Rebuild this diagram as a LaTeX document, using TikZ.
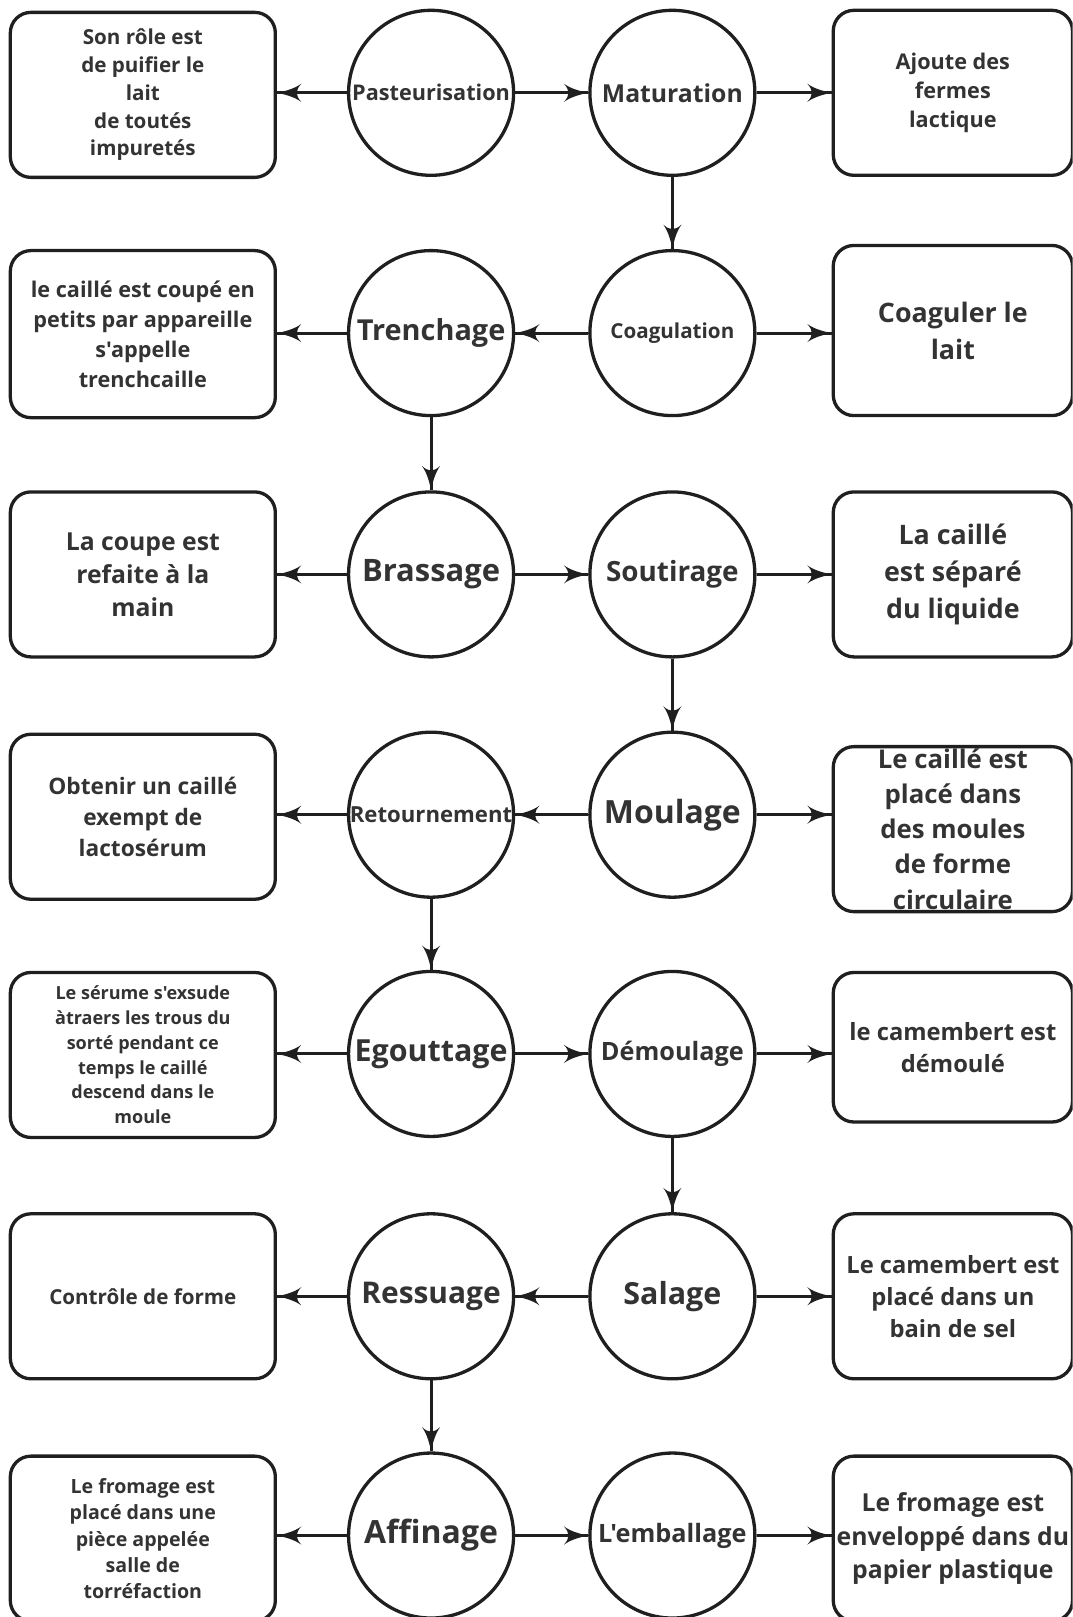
\documentclass[tikz,border=0pt]{standalone}
\usepackage{fontspec}
\setmainfont{Open Sans}[Ligatures = TeXOff]
\usetikzlibrary{arrows}
\usetikzlibrary{decorations.markings}
\tikzset{->/.style = {decoration={markings,
                                  mark=at position 1 with {\arrow[scale=2]{latex'}}},
                      postaction={decorate}}}
\definecolor{mline}{rgb}{0.12, 0.12, 0.12}
\definecolor{mtext}{rgb}{0.2, 0.2, 0.2}
\newcommand{\fsz}[2]{\fontsize{#1}{#2}\selectfont}
\tikzset{stage/.style = {draw = mline, circle, line width = 3.2pt, minimum size = 160pt,
                         inner sep = 0, text = mtext}}
\tikzset{note/.style = {draw = mline, rounded corners = 20pt, line width = 3.2pt,
                        minimum width = 257pt, minimum height = 160pt, inner sep = 2pt,
                        align = center, text = mtext}}
\tikzset{rnote/.style = {note, minimum width = 232pt}}
\tikzset{conn/.style = {draw = mline, line width = 3pt}}

\begin{document}
\begin{tikzpicture}[x = 1pt, y = -1pt]
  \useasboundingbox (0, 0) rectangle (1040, 1568);
  \clip (0, 0) rectangle (1040, 1568);
  \node [stage, font = \bfseries\fsz{21}{25}] (past) at (418, 90) {Pasteurisation};
  \node [stage, font = \bfseries\fsz{24}{28}] (matu) at (652, 90) {Maturation};
  \node [stage, font = \bfseries\fsz{28}{32}] (tren) at (418, 323) {Trenchage};
  \node [stage, font = \bfseries\fsz{20}{24}] (coag) at (652, 323) {Coagulation};
  \node [stage, font = \bfseries\fsz{30}{34}] (bras) at (418, 557) {Brassage};
  \node [stage, font = \bfseries\fsz{27}{31}] (sout) at (652, 557) {Soutirage};
  \node [stage, font = \bfseries\fsz{21.5}{26}] (reto) at (418, 790) {Retournement};
  \node [stage, font = \bfseries\fsz{31}{35}] (moul) at (652, 790) {Moulage};
  \node [stage, font = \bfseries\fsz{29.5}{34}] (egou) at (418, 1022) {Egouttage};
  \node [stage, font = \bfseries\fsz{24.5}{28}] (demo) at (652, 1022) {Démoulage};
  \node [stage, font = \bfseries\fsz{29}{33}] (ress) at (418, 1257) {Ressuage};
  \node [stage, font = \bfseries\fsz{29.5}{34}] (sala) at (652, 1257) {Salage};
  \node [stage, font = \bfseries\fsz{31}{35}] (affi) at (418, 1489) {Affinage};
  \node [stage, font = \bfseries\fsz{24.5}{28}] (emba) at (652, 1489) {L'emballage};

  \node [note, font = \bfseries\fsz{20}{27}] (past-box) at (138.5, 92)
    {Son rôle est\\de puifier le\\lait\\de toutés\\impuretés};
  \node [rnote, font = \bfseries\fsz{21}{28.5}] (matu-box) at (924, 90)
    {Ajoute des\\fermes\\lactique};
  \node [note, minimum height = 162pt, font = \bfseries\fsz{21}{29}] (tren-box) at (138.5, 324)
    {le caillé est coupé en\\petits par appareille\\s'appelle\\trenchcaille};
  \node [rnote, minimum height = 165pt, font = \bfseries\fsz{26}{36}] (coag-box) at (924, 320.5)
    {Coaguler le\\lait};
  \node [note, font = \bfseries\fsz{24}{32}] (bras-box) at (138.5, 557)
    {La coupe est\\refaite à la\\main};
  \node [rnote, font = \bfseries\fsz{26}{36}] (sout-box) at (924, 557)
    {La caillé\\est séparé\\du liquide};
  \node [note, font = \bfseries\fsz{22}{30}] (reto-box) at (138.5, 792)
    {Obtenir un caillé\\exempt de\\lactosérum};
  \node [rnote, font = \bfseries\fsz{25}{34}] (moul-box) at (924, 804)
    {Le caillé est\\placé dans\\des moules\\de forme\\circulaire};
  \node [note, font = \bfseries\fsz{17.5}{24}] (egou-box) at (138.5, 1023)
    {Le sérume s'exsude\\àtraers les trous du\\sorté pendant ce\\temps le caillé\\descend dans le\\moule};
  \node [rnote, minimum height = 145pt, font = \bfseries\fsz{23}{31}] (demo-box) at (924, 1015.5)
    {le camembert est\\démoulé};
  \node [note, font = \bfseries\fsz{20}{27}] (ress-box) at (138.5, 1257)
    {Contrôle de forme};
  \node [rnote, font = \bfseries\fsz{23}{31}] (sala-box) at (924, 1257)
    {Le camembert est\\placé dans un\\bain de sel};
  \node [note, font = \bfseries\fsz{19}{25.5}] (affi-box) at (138.5, 1492)
    {Le fromage est\\placé dans une\\pièce appelée\\salle de\\torréfaction};
  \node [rnote, font = \bfseries\fsz{24}{32.5}] (emba-box) at (924, 1492)
    {Le fromage est\\enveloppé dans du\\papier plastique};

  \foreach \a/\b in {past/matu, matu/coag, coag/tren, tren/bras, bras/sout, sout/moul,
                     moul/reto, reto/egou, egou/demo, demo/sala, sala/ress, ress/affi,
                     affi/emba} {
    \draw [conn, ->] (\a) -- (\b);
  }
  \foreach \a in {past, tren, bras, reto, egou, ress, affi} {
    \draw [conn, ->] (\a) -- (\a -| \a-box.east);
  }
  \foreach \a in {matu, coag, sout, moul, demo, sala, emba} {
    \draw [conn, ->] (\a) -- (\a -| \a-box.west);
  }
\end{tikzpicture}
\end{document}
